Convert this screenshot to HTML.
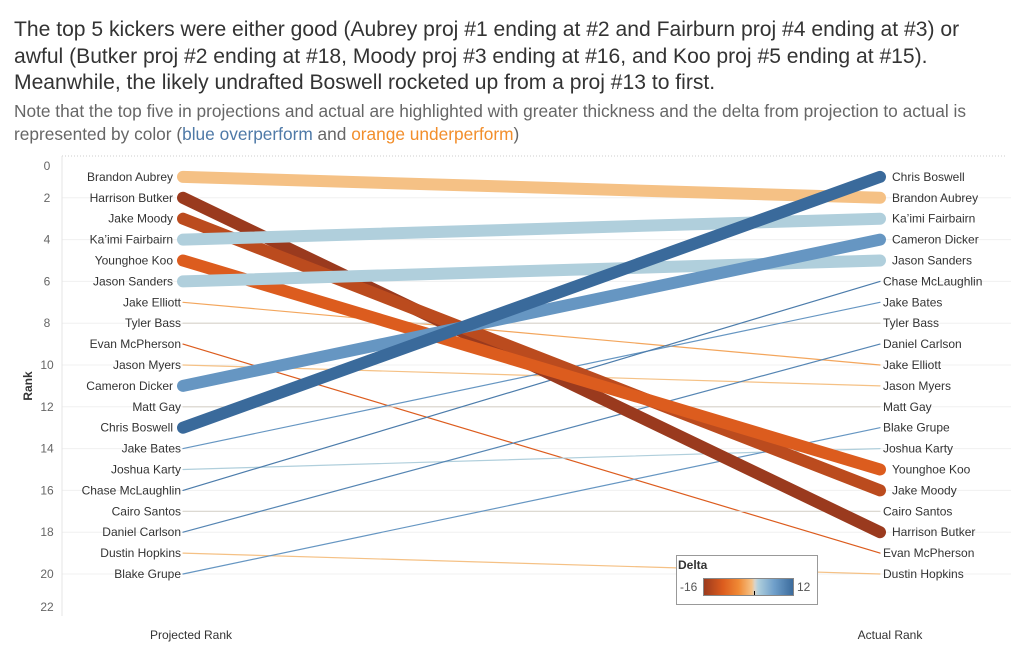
<!DOCTYPE html>
<html><head><meta charset="utf-8"><style>
html,body{margin:0;padding:0;background:#fff;width:1011px;height:652px;overflow:hidden;font-family:"Liberation Sans",sans-serif}
.t{position:absolute;left:14px;white-space:nowrap;color:#333;font-size:21.1px}
.s{position:absolute;left:14px;white-space:nowrap;color:#666;font-size:17.3px}
</style></head><body>
<div class="t" style="top:18px">The top 5 kickers were either good (Aubrey proj #1 ending at #2 and Fairburn proj #4 ending at #3) or</div>
<div class="t" style="top:45px">awful (Butker proj #2 ending at #18, Moody proj #3 ending at #16, and Koo proj #5 ending at #15).</div>
<div class="t" style="top:71px">Meanwhile, the likely undrafted Boswell rocketed up from a proj #13 to first.</div>
<div class="s" style="top:101px">Note that the top five in projections and actual are highlighted with greater thickness and the delta from projection to actual is</div>
<div class="s" style="top:124px">represented by color (<span style="color:#4e79a7">blue overperform</span> and <span style="color:#f28e2b">orange underperform</span>)</div>
<svg id="chart" width="1011" height="652" style="position:absolute;left:0;top:0" font-family="Liberation Sans, sans-serif"></svg>
<script>
const names=["Brandon Aubrey","Harrison Butker","Jake Moody","Ka\u2019imi Fairbairn","Younghoe Koo","Jason Sanders","Jake Elliott","Tyler Bass","Evan McPherson","Jason Myers","Cameron Dicker","Matt Gay","Chris Boswell","Jake Bates","Joshua Karty","Chase McLaughlin","Cairo Santos","Daniel Carlson","Dustin Hopkins","Blake Grupe"];
const projected=[1,2,3,4,5,6,7,8,9,10,11,12,13,14,15,16,17,18,19,20];
const actual=[2,18,16,3,15,5,10,8,19,11,4,12,1,7,14,6,17,9,20,13];
const yTicks=[0,2,4,6,8,10,12,14,16,18,20,22];
const NS="http://www.w3.org/2000/svg";
const svg=document.getElementById('chart');
const y=r=>156+r*20.9;
const xL=183,xR=880;
function mk(tag,attrs,parent){const e=document.createElementNS(NS,tag);for(const k in attrs)e.setAttribute(k,attrs[k]);(parent||svg).appendChild(e);return e;}
function hex(c){return [parseInt(c.slice(1,3),16),parseInt(c.slice(3,5),16),parseInt(c.slice(5,7),16)];}
const stops=[[-16,"#9a3a1e"],[-10,"#dc5c1e"],[-5,"#f08a35"],[-1,"#f5c185"],[0,"#d8d4cc"],[1,"#b0cfdc"],[6,"#6f9fca"],[12,"#3a6a9b"]];
function color(d){for(let i=0;i<stops.length-1;i++){const[a,ca]=stops[i],[b,cb]=stops[i+1];if(d<=b){const t=(d-a)/(b-a),A=hex(ca),B=hex(cb);return "rgb("+A.map((v,j)=>Math.round(v+(B[j]-v)*t)).join(",")+")";}}return stops[stops.length-1][1];}
const dl=mk('line',{x1:62,x2:1005,y1:156,y2:156,stroke:'#ccc','stroke-dasharray':'1,2'});


yTicks.forEach(t=>{
  if(t>0&&t<22){const g=mk('line',{x1:62,x2:1011,y1:y(t),y2:y(t),stroke:'#f0f0f0'});
  
  }
  const ly=t===0?170:(t===22?611:y(t)+4);
  const tx=mk('text',{x:47,y:ly,'text-anchor':'middle','font-size':12,fill:'#666'});tx.textContent=t;
  
  
});
const ax=mk('line',{x1:62,x2:62,y1:156,y2:616,stroke:'#e4e4e4'});


const yt=mk('text',{x:32,y:386,transform:'rotate(-90 32 386)','text-anchor':'middle','font-size':12,'font-weight':'bold',fill:'#333'});yt.textContent='Rank';


const isThick=i=>projected[i]<=5||actual[i]<=5;
const order=names.map((n,i)=>i).sort((a,b)=>(isThick(a)?1:0)-(isThick(b)?1:0));
order.forEach(i=>{
  const l=mk('line',{x1:xL,y1:y(projected[i]),x2:xR,y2:y(actual[i]),stroke:color(projected[i]-actual[i]),'stroke-width':isThick(i)?12:1.2,'stroke-linecap':'round'});
  
  
});
names.forEach((n,i)=>{
  const th=isThick(i);
  const a=mk('text',{x:th?173:181,y:y(projected[i])+4,'text-anchor':'end','font-size':12,fill:'#333'});a.textContent=n;
  
  
  const b=mk('text',{x:th?892:883,y:y(actual[i])+4,'font-size':12,fill:'#333'});b.textContent=n;
  
  
});
const xa=mk('text',{x:191,y:639,'text-anchor':'middle','font-size':12,fill:'#333'});xa.textContent='Projected Rank';


const xb=mk('text',{x:890,y:639,'text-anchor':'middle','font-size':12,fill:'#333'});xb.textContent='Actual Rank';


const lg=mk('g',{});


mk('rect',{x:676.5,y:555.5,width:141,height:49,fill:'#fff',stroke:'#999'},lg);
const defs=mk('defs',{});
const gr=mk('linearGradient',{id:'lgd'},defs);
stops.forEach(([v,c])=>mk('stop',{offset:((v+16)/28*100)+'%','stop-color':c},gr));
const lt=mk('text',{x:678,y:569,'font-size':12,'font-weight':'bold',fill:'#333'},lg);lt.textContent='Delta';
const l1=mk('text',{x:680,y:591,'font-size':12,fill:'#555'},lg);l1.textContent='-16';
mk('rect',{x:703.5,y:578.5,width:90,height:17,fill:'url(#lgd)',stroke:'#888'},lg);
mk('line',{x1:754.5,x2:754.5,y1:591,y2:595,stroke:'#000'},lg);
const l2=mk('text',{x:797,y:591,'font-size':12,fill:'#555'},lg);l2.textContent='12';
</script>
</body></html>
